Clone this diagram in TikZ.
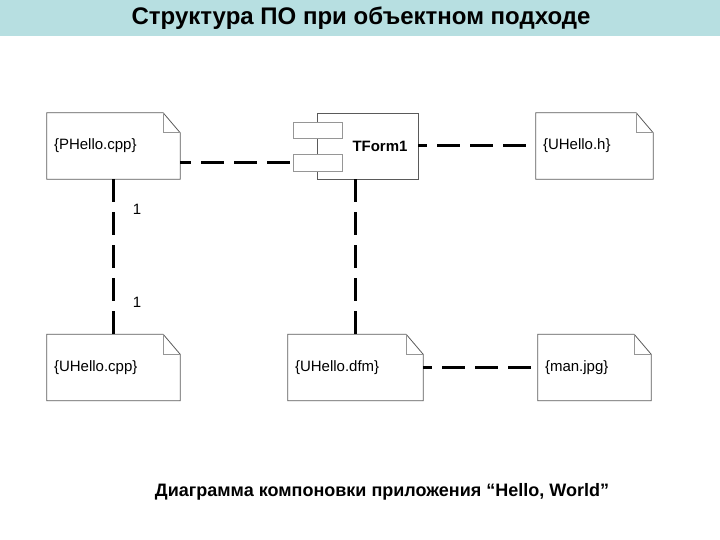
\documentclass[tikz,border=0pt]{standalone}
\usepackage{fontspec}
\setmainfont{Liberation Sans}
\definecolor{titlebg}{RGB}{183,223,225}
\definecolor{boxline}{RGB}{90,90,90}
\definecolor{foldline}{RGB}{150,150,150}
\tikzset{
  notebox/.style={draw=none, minimum height=66pt, inner xsep=7pt, inner ysep=0pt, align=left, font=\fontsize{15}{17}\selectfont},
  compbox/.style={draw=boxline, line width=0.8pt, fill=white, minimum width=101pt, minimum height=66pt, inner sep=0pt},
  portbox/.style={draw=foldline, line width=0.8pt, fill=white, minimum width=49pt, minimum height=16pt, inner sep=0pt},
  conn/.style={line width=3pt, dash pattern=on 23pt off 10pt},
  numlabel/.style={font=\fontsize{15}{17}\selectfont}
}
\begin{document}
\begin{tikzpicture}[x=1pt,y=-1pt]
\useasboundingbox (0,0) rectangle (720,540);
\fill[titlebg] (0,0) rectangle (720,36);
\node[font=\bfseries\fontsize{24}{28}\selectfont] (title) at (361,18) {Структура ПО при объектном подходе};

% notes
\node[notebox, text width=119pt] (ph) at (113.5,146) {\{PHello.cpp\}};
\node[notebox, text width=103pt] (uh) at (594.5,146) {\{UHello.h\}};
\node[notebox, text width=119pt] (uc) at (113.5,367.5) {\{UHello.cpp\}};
\node[notebox, text width=121pt] (ud) at (355.5,367.5) {\{UHello.dfm\}};
\node[notebox, text width=99pt] (mj) at (594.5,367.5) {\{man.jpg\}};
\foreach \n in {ph,uh,uc,ud,mj}{
  \draw[boxline, line width=0.8pt] (\n.north west) -- ([xshift=-17pt]\n.north east) -- ([yshift=-20pt]\n.north east) -- (\n.south east) -- (\n.south west) -- cycle;
  \draw[foldline, line width=0.8pt] ([xshift=-17pt]\n.north east) -- ([xshift=-17pt,yshift=-20pt]\n.north east) -- ([yshift=-20pt]\n.north east);
}

% component
\node[compbox, label={[font=\bfseries\fontsize{15}{17}\selectfont, xshift=12.5pt]center:TForm1}] (tf) at (367.5,146) {};
\node[portbox] (p1) at (317.5,130) {};
\node[portbox, minimum height=17pt] (p2) at (317.5,162.5) {};

% connectors
\draw[conn, dash phase=12pt] (ph.east |- p2.west) -- (p2.west);
\draw[conn, dash phase=14pt] (tf.east) -- (uh.west);
\draw[conn] (ph.south) -- (uc.north);
\draw[conn] (ud.north |- tf.south) -- (ud.north);
\draw[conn, dash phase=14pt] (ud.east) -- (mj.west);

\node[numlabel] (n1) at (137,209) {1};
\node[numlabel] (n2) at (137,302) {1};

\node[font=\bfseries\fontsize{18}{21}\selectfont] (cap) at (382,492) {Диаграмма компоновки приложения “Hello, World”};
\end{tikzpicture}
\end{document}
